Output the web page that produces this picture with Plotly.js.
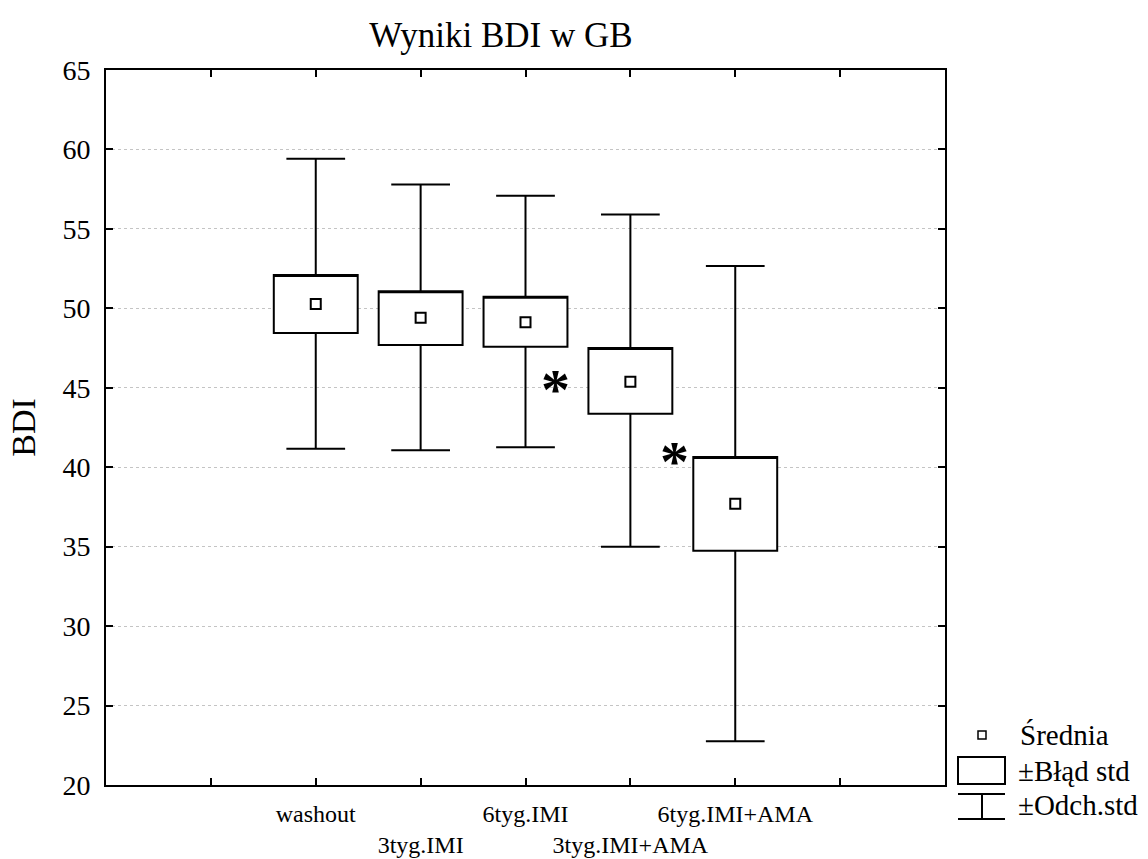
<!DOCTYPE html>
<html>
<head>
<meta charset="utf-8">
<script src="https://cdn.plot.ly/plotly-3.0.1.min.js"></script>
<style>html,body{margin:0;padding:0;background:#fff}#chart{width:1148px;height:859px}</style>
</head>
<body>
<div id="chart"></div>
<script>
// ---- data ----
var categories = ['washout', '3tyg.IMI', '6tyg.IMI', '3tyg.IMI+AMA', '6tyg.IMI+AMA'];
var means  = [50.28, 49.40, 49.12, 45.38, 37.70];   // Średnia
var seLow  = [48.45, 47.70, 47.58, 43.36, 34.74];   // mean - błąd std
var seHigh = [52.10, 51.07, 50.73, 47.51, 40.65];   // mean + błąd std
var sdLow  = [41.17, 41.07, 41.25, 35.00, 22.76];   // mean - odch. std
var sdHigh = [59.42, 57.80, 57.09, 55.90, 52.66];   // mean + odch. std
var yTicks = [20, 25, 30, 35, 40, 45, 50, 55, 60, 65];
var starX = [2.29, 3.42];    // asterisk positions (x in category units)
var starY = [45.38, 40.85];  // asterisk positions (BDI)
var legendLabels = ['Średnia', '±Błąd std', '±Odch.std'];

var FONT = '"Liberation Serif", "Times New Roman", Times, serif';
var pos = categories.map(function (c, i) { return i; });

var boxTrace = {
  type: 'box',
  x: pos,
  q1: seLow,
  median: seHigh,
  q3: seHigh,
  lowerfence: sdLow,
  upperfence: sdHigh,
  width: 0.8,
  whiskerwidth: 0.7,
  fillcolor: '#ffffff',
  line: { color: '#000000', width: 2 },
  boxpoints: false,
  hoverinfo: 'skip',
  showlegend: false
};

var meanTrace = {
  type: 'scatter',
  mode: 'markers',
  x: pos,
  y: means,
  marker: { symbol: 'square', size: 10, color: '#ffffff', line: { color: '#000000', width: 2 } },
  hoverinfo: 'skip',
  showlegend: false
};

// x tick labels: staggered on two rows
var tickVals = [-1, 0, 1, 2, 3, 4, 5];
var tickText = tickVals.map(function (v) {
  if (v < 0 || v >= categories.length) return '';
  return (v % 2 === 1 ? '<br>' : '') + categories[v];
});

var annotations = [];
starX.forEach(function (sx, i) {
  annotations.push({
    xref: 'x', yref: 'y', x: sx, y: starY[i],
    text: '<b>*</b>', showarrow: false,
    font: { family: FONT, size: 58, color: '#000' },
    xanchor: 'center', yanchor: 'middle', yshift: -8
  });
});

// custom legend (paper coords, pixel based)
var L = 106, R = 945, T = 70, B = 785;
function px(x) { return (x - L) / (R - L); }
function py(y) { return (B - y) / (B - T); }
var shapes = [
  { type: 'rect', xref: 'paper', yref: 'paper', x0: px(978), x1: px(986), y0: py(739), y1: py(731), line: { color: '#000', width: 1.5 }, fillcolor: '#fff' },
  { type: 'rect', xref: 'paper', yref: 'paper', x0: px(958), x1: px(1005), y0: py(784), y1: py(757), line: { color: '#000', width: 2 }, fillcolor: '#fff' },
  { type: 'line', xref: 'paper', yref: 'paper', x0: px(958), x1: px(1005), y0: py(794), y1: py(794), line: { color: '#000', width: 2 } },
  { type: 'line', xref: 'paper', yref: 'paper', x0: px(982), x1: px(982), y0: py(794), y1: py(819), line: { color: '#000', width: 2 } },
  { type: 'line', xref: 'paper', yref: 'paper', x0: px(958), x1: px(1005), y0: py(819), y1: py(819), line: { color: '#000', width: 2 } }
];
var legY = [735, 771, 805];
var legX = [1018, 1016, 1016];
legendLabels.forEach(function (t, i) {
  annotations.push({
    xref: 'paper', yref: 'paper', x: px(legX[i]), y: py(legY[i]),
    text: t, showarrow: false, xanchor: 'left', yanchor: 'middle',
    font: { family: FONT, size: 29, color: '#000' }
  });
});

var layout = {
  width: 1148, height: 859,
  margin: { l: L, r: 1148 - R, t: T, b: 859 - B },
  paper_bgcolor: '#ffffff', plot_bgcolor: '#ffffff',
  font: { family: FONT, color: '#000' },
  title: {
    text: 'Wyniki BDI w GB',
    font: { family: FONT, size: 35, color: '#000' },
    xref: 'container', x: 501 / 1148, xanchor: 'center',
    yref: 'container', y: 1 - 35 / 859, yanchor: 'middle'
  },
  xaxis: {
    range: [-2, 6],
    tickmode: 'array', tickvals: tickVals, ticktext: tickText,
    tickangle: 0,
    ticks: 'inside', ticklen: 7, tickwidth: 2, tickcolor: '#000',
    showline: true, linecolor: '#000', linewidth: 2, mirror: 'ticks',
    showgrid: false, zeroline: false,
    tickfont: { family: FONT, size: 24, color: '#000' },
    ticklabelstandoff: 6,
    fixedrange: true
  },
  yaxis: {
    range: [20, 65],
    tickmode: 'array', tickvals: yTicks,
    ticks: 'inside', ticklen: 7, tickwidth: 2, tickcolor: '#000',
    showline: true, linecolor: '#000', linewidth: 2, mirror: 'ticks',
    showgrid: true, gridcolor: '#c4c4c4', griddash: 'dot', gridwidth: 1,
    zeroline: false,
    tickfont: { family: FONT, size: 28, color: '#000' },
    ticklabelstandoff: 8,
    title: { text: 'BDI', font: { family: FONT, size: 34, color: '#000' }, standoff: 17 },
    fixedrange: true
  },
  showlegend: false,
  shapes: shapes,
  annotations: annotations
};

Plotly.newPlot('chart', [boxTrace, meanTrace], layout, { displayModeBar: false, staticPlot: true });
</script>
</body>
</html>
